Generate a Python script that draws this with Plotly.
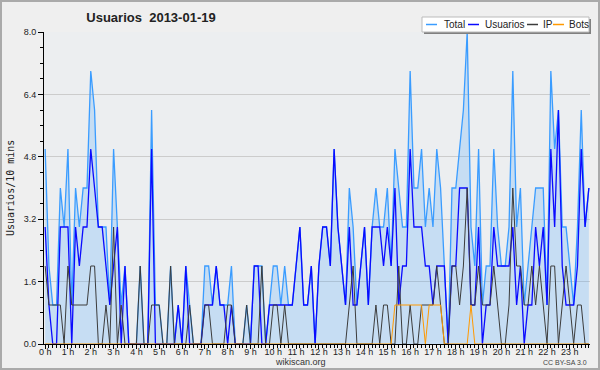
import plotly.graph_objects as go

# 10-minute slots over the day (144 slots)
total = [5,2,1,1,4,3,5,1,4,3,4,4,7,6,3,3,3,1,5,3,1,2,0,0,0,2,0,0,6,1,
         1,0,0,2,0,1,0,2,1,0,0,0,2,2,1,2,1,1,1,2,0,0,0,1,0,2,2,2,0,1,
         2,2,1,2,1,1,2,3,1,1,2,0,2,3,3,2,5,3,2,1,4,3,1,2,3,1,3,4,3,3,
         4,2,5,4,3,3,7,4,4,5,3,4,3,5,4,2,0,4,4,5,6,8,3,2,5,1,2,2,5,3,
         2,2,3,7,3,4,1,2,3,4,4,4,1,7,5,6,3,3,2,1,3,6,3,4]
usuarios = [3,1,0,0,3,3,3,0,3,2,3,3,5,4,3,3,2,1,2,3,0,2,0,0,0,0,0,0,5,0,
            0,0,0,0,0,1,0,2,0,0,0,0,1,1,1,2,1,1,0,1,0,0,0,0,0,2,2,0,0,1,
            1,1,1,1,1,1,2,3,1,1,2,0,2,3,3,2,5,3,2,1,3,1,1,2,3,1,3,3,3,2,
            3,2,4,1,2,2,5,3,3,3,2,2,1,2,2,2,0,2,2,4,4,4,1,1,3,0,1,1,3,2,
            2,2,2,3,1,2,0,1,1,3,2,3,1,5,3,6,2,1,1,1,2,5,3,4]
ip = [2,1,1,1,1,0,2,1,1,1,1,1,2,2,0,0,1,0,3,0,1,0,0,0,0,2,0,0,1,1,
      1,0,0,2,0,0,0,0,1,0,0,0,1,1,0,0,0,0,1,1,0,0,0,1,0,0,0,2,0,0,
      1,1,0,1,0,0,0,0,0,0,0,0,0,0,0,0,0,0,0,0,1,2,0,0,0,0,0,1,0,1,
      1,0,0,2,0,0,1,0,0,1,1,1,1,2,1,0,0,2,2,1,2,4,1,1,2,1,1,1,2,1,
      0,0,1,4,2,2,1,1,2,1,2,1,0,2,2,0,1,2,1,0,1,1,0,0]
bots = [0]*92 + [1,1,1,1,1,1,1,1,0,1,1,1,1,0,0,0,0,0,0,0,1,0] + [0]*30
hour_labels = [f"{h} h" for h in range(24)]

slots = list(range(len(total)))

W, H = 600, 370
L, R, T, B = 44, 10, 32, 26
PW, PH = W - L - R, H - T - B

def px(x):
    return (x - L) / PW

def py(y):
    return (H - B - y) / PH

fig = go.Figure()
fig.add_trace(go.Scatter(x=slots, y=total, mode="lines", name="Total",
                         line=dict(color="#3a9cff", width=1.3),
                         fill="tozeroy", fillcolor="rgba(51,153,255,0.2)"))
fig.add_trace(go.Scatter(x=slots, y=usuarios, mode="lines", name="Usuarios",
                         line=dict(color="#0a0aff", width=1.3)))
fig.add_trace(go.Scatter(x=slots, y=ip, mode="lines", name="IP",
                         line=dict(color="#3c3c3c", width=1)))
fig.add_trace(go.Scatter(x=slots, y=bots, mode="lines", name="Bots",
                         line=dict(color="#ff9900", width=1)))

fig.update_layout(
    width=W, height=H,
    margin=dict(l=L, r=R, t=T, b=B, autoexpand=False),
    paper_bgcolor="#efefef",
    plot_bgcolor="#eceef0",
    showlegend=False,
    hovermode=False,
    font=dict(family="Liberation Sans", size=9, color="#333333"),
    title=dict(text="<b>Usuarios  2013-01-19</b>", x=151 / W, xanchor="center",
               y=1 - 17 / H, yanchor="middle", xref="container", yref="container",
               font=dict(family="Liberation Sans", size=13, color="#222222")),
)
fig.update_xaxes(range=[-0.3, 143.3], showgrid=False, zeroline=False, automargin=False,
                 showline=True, linecolor="#000000", linewidth=1,
                 tickmode="array", tickvals=slots[::6], ticktext=hour_labels,
                 ticks="outside", ticklen=4, tickcolor="#000000",
                 ticklabelstandoff=-5,
                 tickfont=dict(size=9, color="#222222"),
                 minor=dict(ticks="outside", dtick=1, tick0=0, ticklen=3,
                            tickcolor="#000000", showgrid=False))
fig.update_yaxes(range=[0, 8], showgrid=True, gridcolor="#cccccc", gridwidth=1,
                 zeroline=False, showline=True, linecolor="#000000", linewidth=1,
                 automargin=False,
                 tickmode="array", tickvals=[0, 1.6, 3.2, 4.8, 6.4, 8.0],
                 ticktext=["0.0", "1.6", "3.2", "4.8", "6.4", "8.0"],
                 ticks="outside", ticklen=5, tickcolor="#000000",
                 tickfont=dict(size=9, color="#222222"),
                 minor=dict(ticks="outside", dtick=0.4, tick0=0, ticklen=3,
                            tickcolor="#000000", showgrid=False))

shapes = []
annotations = []
# outer border
shapes.append(dict(type="rect", xref="paper", yref="paper",
                   x0=px(1), x1=px(W - 1), y0=py(H - 1), y1=py(1),
                   line=dict(color="#aaaaaa", width=2), fillcolor="rgba(0,0,0,0)"))
# legend box (shadow + box)
shapes.append(dict(type="rect", xref="paper", yref="paper",
                   x0=px(424), x1=px(591), y0=py(34), y1=py(19),
                   line=dict(width=0), fillcolor="#808080"))
shapes.append(dict(type="rect", xref="paper", yref="paper",
                   x0=px(422), x1=px(589), y0=py(32), y1=py(17),
                   line=dict(color="#bbbbbb", width=1), fillcolor="#ffffff"))
legend_items = [("Total", "#3a9cff", 426, 442), ("Usuarios", "#0a0aff", 468, 483),
                ("IP", "#3c3c3c", 527, 541), ("Bots", "#ff9900", 553, 567)]
for name, col, lx, tx in legend_items:
    shapes.append(dict(type="line", xref="paper", yref="paper",
                       x0=px(lx), x1=px(lx + 11), y0=py(24.5), y1=py(24.5),
                       line=dict(color=col, width=1.5)))
    annotations.append(dict(text=name, xref="paper", yref="paper", x=px(tx), y=py(24.5),
                            xanchor="left", yanchor="middle", showarrow=False,
                            font=dict(family="Liberation Sans", size=10, color="#222222")))
# axis titles and credits
annotations.append(dict(text="Usuarios/10 mins", xref="paper", yref="paper",
                        x=px(10), y=py(188), textangle=-90, showarrow=False,
                        xanchor="center", yanchor="middle",
                        font=dict(family="DejaVu Sans Mono", size=10, color="#222222")))
annotations.append(dict(text="wikiscan.org", xref="paper", yref="paper",
                        x=px(300), y=py(362), showarrow=False,
                        xanchor="center", yanchor="middle",
                        font=dict(family="Liberation Sans", size=9, color="#333333")))
annotations.append(dict(text="CC BY-SA 3.0", xref="paper", yref="paper",
                        x=px(589), y=py(362), showarrow=False,
                        xanchor="right", yanchor="middle",
                        font=dict(family="Liberation Sans", size=7, color="#444444")))
fig.update_layout(shapes=shapes, annotations=annotations)

fig.write_html("out.html", config={"displayModeBar": False},
               post_script="document.body.style.margin='0';document.body.style.overflow='hidden';")
